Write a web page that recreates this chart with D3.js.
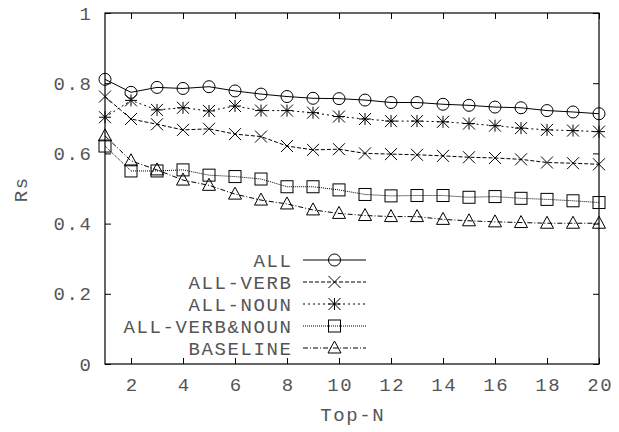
<!DOCTYPE html>
<html>
<head>
<meta charset="utf-8">
<script src="https://cdn.jsdelivr.net/npm/d3@7"></script>
<style>
  html, body { margin: 0; padding: 0; background: #fff; }
  text { font-family: "Liberation Mono", "Courier New", monospace; font-size: 19px; fill: #555; letter-spacing: 1.6px; }
</style>
</head>
<body>
<div id="view"></div>
<script>
'use strict';

const topN = d3.range(1, 21);
const seriesNames = ['ALL', 'ALL-VERB', 'ALL-NOUN', 'ALL-VERB&NOUN', 'BASELINE'];
const valuesAll = [0.811, 0.774, 0.788, 0.785, 0.790, 0.778, 0.769, 0.762, 0.757, 0.756,
  0.752, 0.745, 0.745, 0.740, 0.737, 0.732, 0.730, 0.722, 0.718, 0.713];
const valuesVerb = [0.762, 0.698, 0.683, 0.667, 0.670, 0.655, 0.648, 0.621, 0.610, 0.612,
  0.600, 0.598, 0.596, 0.593, 0.589, 0.587, 0.583, 0.574, 0.572, 0.569];
const valuesNoun = [0.703, 0.751, 0.724, 0.730, 0.721, 0.735, 0.722, 0.722, 0.716, 0.705,
  0.698, 0.692, 0.692, 0.690, 0.685, 0.679, 0.672, 0.667, 0.665, 0.662];
const valuesVerbNoun = [0.621, 0.550, 0.550, 0.553, 0.538, 0.534, 0.527, 0.505, 0.505, 0.496,
  0.483, 0.479, 0.480, 0.480, 0.475, 0.477, 0.472, 0.469, 0.465, 0.460];
const valuesBaseline = [0.650, 0.579, 0.553, 0.524, 0.509, 0.484, 0.467, 0.456, 0.439, 0.429,
  0.423, 0.420, 0.420, 0.412, 0.408, 0.405, 0.403, 0.401, 0.401, 0.401];
const xTicks = d3.range(2, 21, 2);
const yTicks = [0, 0.2, 0.4, 0.6, 0.8, 1];

const size = { w: 619, h: 432 };
const plot = { left: 105, right: 599, top: 13, bottom: 364 };
const tickLen = 6;

const series = [
  { name: seriesNames[0], values: valuesAll, dash: null, marker: 'circle' },
  { name: seriesNames[1], values: valuesVerb, dash: '4,2', marker: 'cross' },
  { name: seriesNames[2], values: valuesNoun, dash: '2,3', marker: 'star' },
  { name: seriesNames[3], values: valuesVerbNoun, dash: '1,1', marker: 'square' },
  { name: seriesNames[4], values: valuesBaseline, dash: '5,2,1,2', marker: 'triangle' }
];

const x = d3.scaleLinear().domain([1, 20]).range([plot.left, plot.right]);
const y = d3.scaleLinear().domain([0, 1]).range([plot.bottom, plot.top]);

const svg = d3.select('#view').append('svg')
  .attr('width', size.w)
  .attr('height', size.h);

// border box
svg.append('rect')
  .attr('x', plot.left)
  .attr('y', plot.top)
  .attr('width', plot.right - plot.left)
  .attr('height', plot.bottom - plot.top)
  .attr('fill', 'none')
  .attr('stroke', '#000')
  .attr('stroke-width', 1.2);

// inward ticks on all four sides via d3 axes
const axisStyle = g => {
  g.select('.domain').remove();
  g.selectAll('.tick line').attr('stroke', '#000').attr('stroke-width', 1);
};

svg.append('g')
  .attr('transform', `translate(0,${plot.bottom})`)
  .call(d3.axisBottom(x).tickValues(xTicks).tickSize(-tickLen).tickPadding(14).tickFormat(d3.format('d')))
  .call(axisStyle)
  .call(g => g.selectAll('.tick text').attr('dx', '0.8px'));

svg.append('g')
  .attr('transform', `translate(0,${plot.top})`)
  .call(d3.axisTop(x).tickValues(xTicks).tickSize(-tickLen).tickFormat(''))
  .call(axisStyle);

svg.append('g')
  .attr('transform', `translate(${plot.left},0)`)
  .call(d3.axisLeft(y).tickValues(yTicks).tickSize(-tickLen).tickPadding(14).tickFormat(d => d === 0 || d === 1 ? String(d) : d.toFixed(1)))
  .call(axisStyle)
  .call(g => g.selectAll('.tick text').attr('dx', '1.6px'));

svg.append('g')
  .attr('transform', `translate(${plot.right},0)`)
  .call(d3.axisRight(y).tickValues(yTicks).tickSize(-tickLen).tickFormat(''))
  .call(axisStyle);

svg.selectAll('.tick text')
  .attr('font-family', null)
  .attr('font-size', null)
  .attr('fill', '#555');

// axis titles
svg.append('text')
  .attr('x', (plot.left + plot.right) / 2 + 0.8)
  .attr('y', 421)
  .attr('text-anchor', 'middle')
  .text('Top-N');

svg.append('text')
  .attr('transform', `translate(27,${(plot.top + plot.bottom) / 2 + 0.8}) rotate(-90)`)
  .attr('text-anchor', 'middle')
  .text('Rs');

// marker drawing
function drawMarker(g, type, cx, cy) {
  const s = 6;
  const attrs = { fill: 'none', stroke: '#000', 'stroke-width': 1 };
  let el;
  switch (type) {
    case 'circle':
      el = g.append('circle').attr('cx', cx).attr('cy', cy).attr('r', s);
      break;
    case 'cross':
      el = g.append('path').attr('d', `M${cx - s},${cy - s}L${cx + s},${cy + s}M${cx - s},${cy + s}L${cx + s},${cy - s}`);
      break;
    case 'star':
      el = g.append('path').attr('d', `M${cx - s},${cy - s}L${cx + s},${cy + s}M${cx - s},${cy + s}L${cx + s},${cy - s}` +
        `M${cx},${cy - s}L${cx},${cy + s}M${cx - s},${cy}L${cx + s},${cy}`);
      break;
    case 'square':
      el = g.append('rect').attr('x', cx - s).attr('y', cy - s).attr('width', 2 * s).attr('height', 2 * s);
      break;
    case 'triangle':
      el = g.append('path').attr('d', `M${cx},${cy - 7}L${cx + 6.5},${cy + 5}L${cx - 6.5},${cy + 5}Z`);
      break;
    default: return;
  }
  for (const k in attrs) el.attr(k, attrs[k]);
}

const line = d3.line()
  .x((d, i) => x(topN[i]))
  .y(d => y(d));

series.forEach(s => {
  svg.append('path')
    .datum(s.values)
    .attr('d', line)
    .attr('fill', 'none')
    .attr('stroke', '#000')
    .attr('stroke-width', 1)
    .attr('stroke-dasharray', s.dash);

  const gm = svg.append('g');
  s.values.forEach((v, i) => drawMarker(gm, s.marker, x(topN[i]), y(v)));
});

// legend
const legend = { textRight: 291, x0: 303, x1: 366, y0: 260, dy: 22 };
series.forEach((s, i) => {
  const ly = legend.y0 + i * legend.dy;
  svg.append('text')
    .attr('x', legend.textRight + 1.6)
    .attr('y', ly)
    .attr('dy', '0.35em')
    .attr('text-anchor', 'end')
    .text(s.name);
  svg.append('line')
    .attr('x1', legend.x0).attr('x2', legend.x1)
    .attr('y1', ly).attr('y2', ly)
    .attr('stroke', '#000')
    .attr('stroke-width', 1)
    .attr('stroke-dasharray', s.dash);
  drawMarker(svg, s.marker, (legend.x0 + legend.x1) / 2, ly);
});
</script>
</body>
</html>
